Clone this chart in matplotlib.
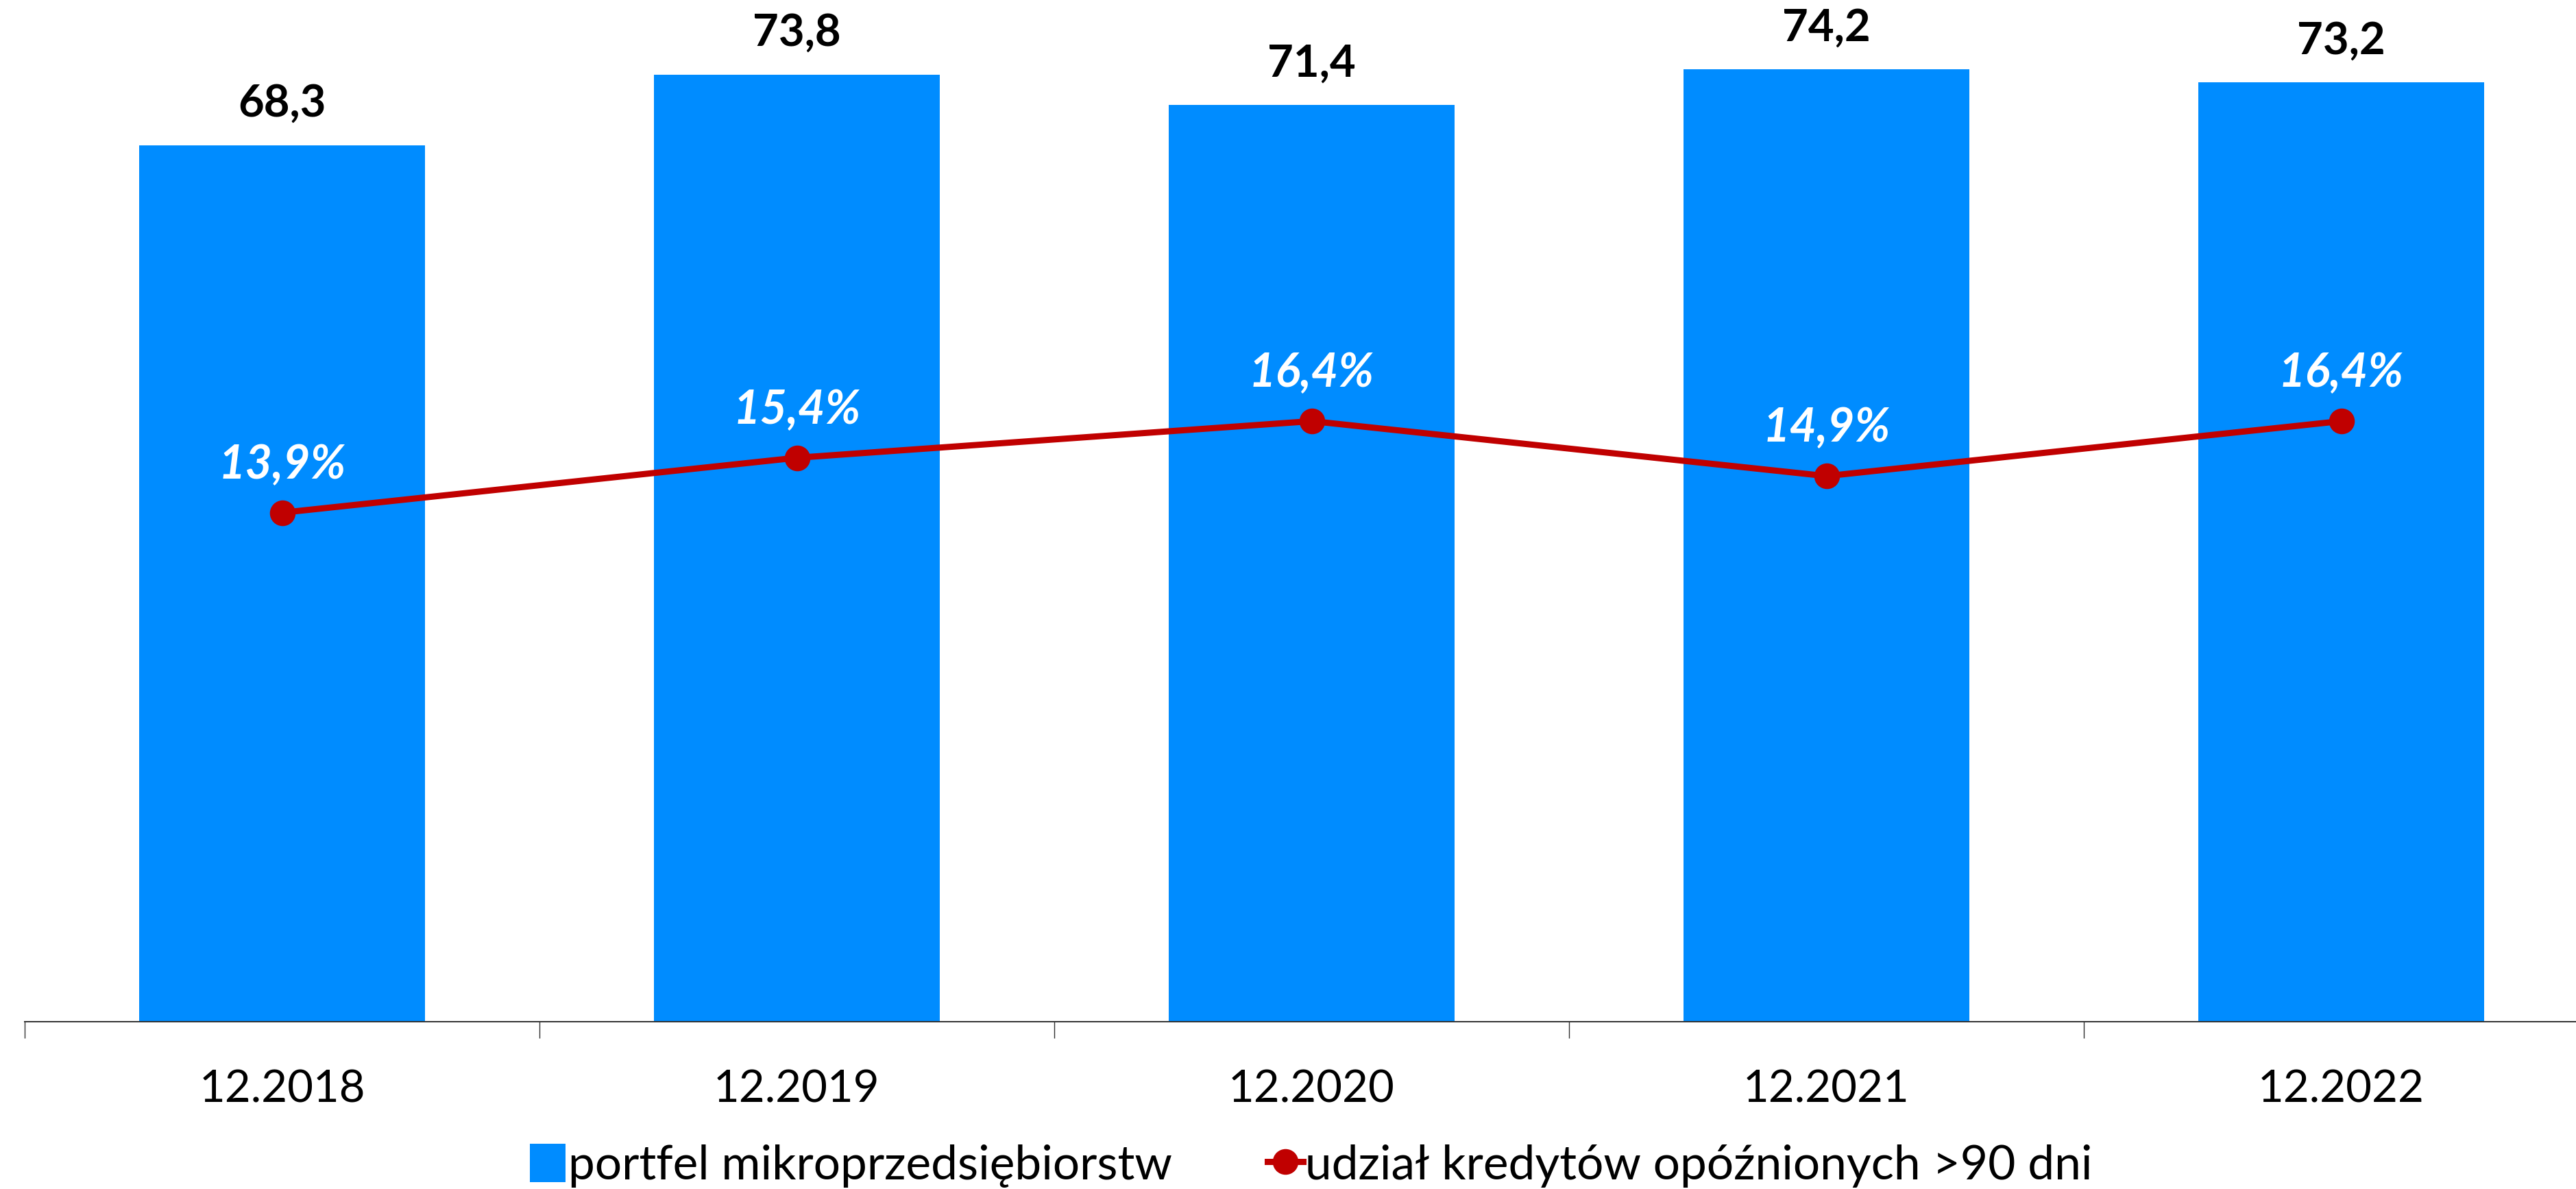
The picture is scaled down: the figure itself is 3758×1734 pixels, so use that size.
import matplotlib
matplotlib.use("Agg")
import matplotlib.pyplot as plt
from matplotlib.lines import Line2D
from matplotlib.patches import Patch
import numpy as np

categories = ["12.2018", "12.2019", "12.2020", "12.2021", "12.2022"]
portfolio = [68.3, 73.8, 71.4, 74.2, 73.2]
overdue_share = [13.9, 15.4, 16.4, 14.9, 16.4]
bar_label_text = ["68,3", "73,8", "71,4", "74,2", "73,2"]
share_label_text = ["13,9%", "15,4%", "16,4%", "14,9%", "16,4%"]
legend_labels = ["portfel mikroprzedsiębiorstw", "udział kredytów opóźnionych >90 dni"]

plt.rcParams['font.family'] = ['Lato', 'DejaVu Sans']

W, H = 3758, 1734
dpi = 100
fig = plt.figure(figsize=(W / dpi, H / dpi), dpi=dpi)

left_px, right_px = 36, 3791
bottom_px, top_px = 1490, 0
ax = fig.add_axes([left_px / W, 1 - bottom_px / H, (right_px - left_px) / W, (bottom_px - top_px) / H])

bar_color = "#008CFF"
line_color = "#C00000"
fs = 47

x = np.arange(len(categories))
ax.bar(x, portfolio, width=0.555, color=bar_color, zorder=2)
ax.set_xlim(-0.5, len(categories) - 0.5)
ax.set_ylim(0, 79.6)
for xi, v, t in zip(x, portfolio, bar_label_text):
    ax.annotate(t, (xi, v), xytext=(0, 22), textcoords="offset points",
                ha="center", va="bottom", fontsize=fs, fontweight="bold", color="black")

for s in ["top", "right", "left"]:
    ax.spines[s].set_visible(False)
ax.spines["bottom"].set_color("#303030")
ax.spines["bottom"].set_linewidth(1.4)
ax.set_yticks([])
ax.set_xticks(x)
ax.set_xticklabels(categories, fontsize=fs)
ax.tick_params(axis="x", which="major", length=0, pad=50)
ax.set_xticks(np.arange(-0.5, len(categories) + 0.5, 1.0), minor=True)
ax.tick_params(axis="x", which="minor", length=17, width=1.0, color="#303030")

ax2 = ax.twinx()
ax2.set_ylim(0, 27.9)
ax2.plot(x, overdue_share, color=line_color, linewidth=6.5, marker="o", markersize=26, zorder=3)
for s in ["top", "right", "left", "bottom"]:
    ax2.spines[s].set_visible(False)
ax2.set_yticks([])
for xi, v, t in zip(x, overdue_share, share_label_text):
    ax2.annotate(t, (xi, v), xytext=(0, 36), textcoords="offset points",
                 ha="center", va="baseline", fontsize=49, fontweight="bold",
                 fontstyle="italic", color="white")

handles = [Patch(facecolor=bar_color, edgecolor="none"),
           Line2D([0], [0], color=line_color, linewidth=6.5, marker="o", markersize=26)]
fig.legend(handles, legend_labels, loc="center", bbox_to_anchor=(0.509, 1 - 1700 / H),
           ncol=2, frameon=False, fontsize=50, handlelength=0.75, handleheight=0.85,
           handletextpad=0.05, columnspacing=2.0, borderpad=0, borderaxespad=0)

fig.savefig("out.png", dpi=dpi)
